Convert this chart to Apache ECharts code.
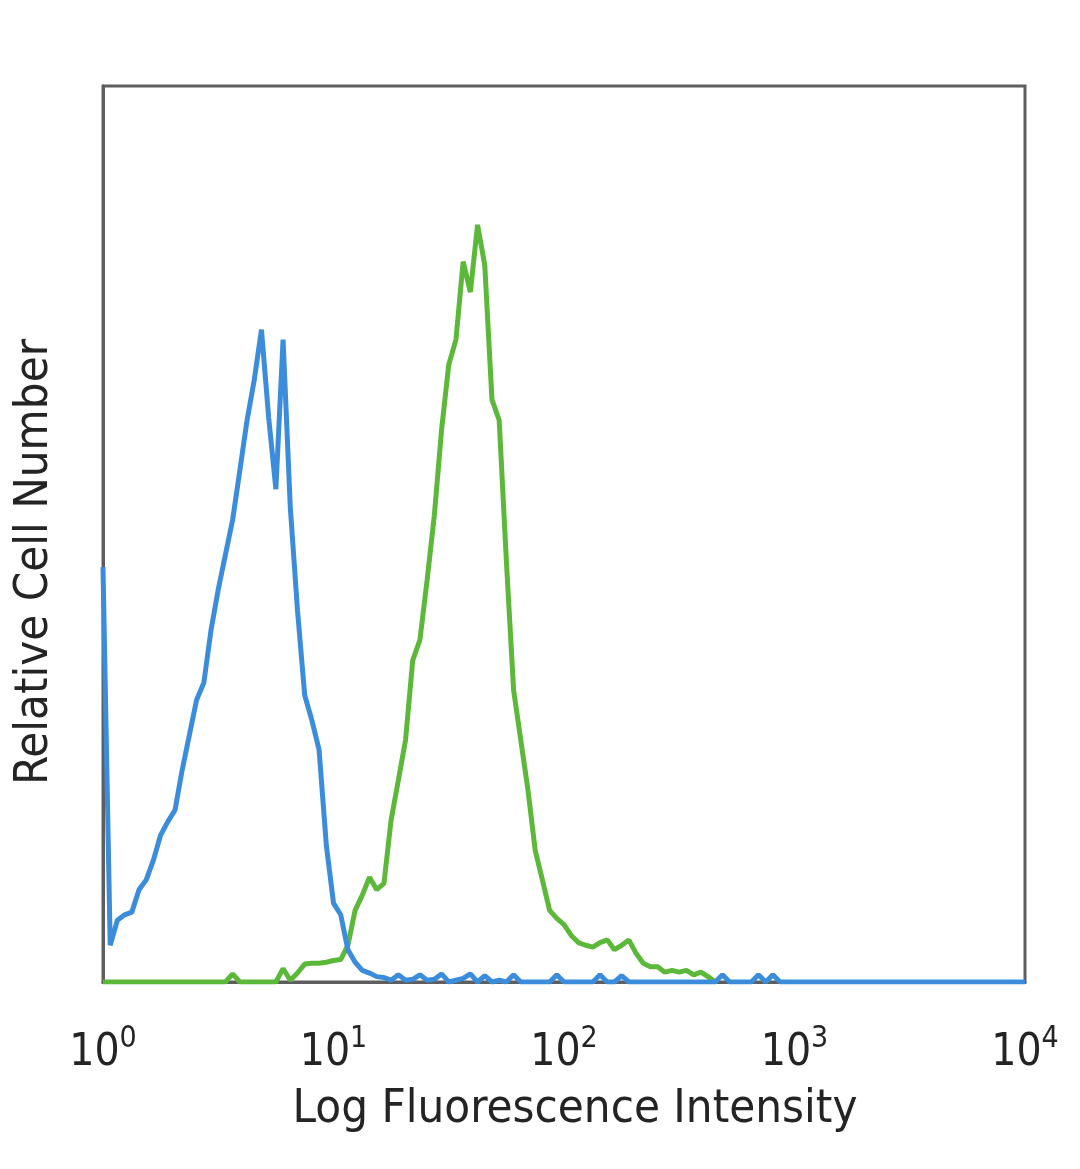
<!DOCTYPE html>
<html>
<head>
<meta charset="utf-8">
<script src="https://cdn.jsdelivr.net/npm/echarts@6/dist/echarts.min.js"></script>
<style>
  html, body { margin: 0; padding: 0; background: #ffffff; }
  #chart { width: 1080px; height: 1169px; }
</style>
</head>
<body>
<div id="chart"></div>
<script>
// Histogram data: log-scale channels, 32 channels per decade, starting at 10^0
const channelsPerDecade = 32;
const xTickLabels = ['10^0', '10^1', '10^2', '10^3', '10^4'];
const xAxisTitle = 'Log Fluorescence Intensity';
const yAxisTitle = 'Relative Cell Number';

// Blue histogram (control), counts per channel from channel 0 to 128
const blueCounts = [
  46.3, 4.1, 6.9, 7.5, 7.8, 10.3, 11.4, 13.6, 16.4, 17.9,
  19.2, 23.7, 27.6, 31.5, 33.4, 39.3, 43.8, 47.7, 51.6, 57.1,
  62.7, 67.2, 72.8, 63.0, 55.0, 71.7, 53.0, 41.5, 32.0, 29.2,
  25.9, 15.3, 8.8, 7.5, 3.6, 2.2, 1.3, 1.0, 0.6, 0.5,
  0.2, 0.8, 0.2, 0.3, 0.8, 0.2, 0.3, 0.9, 0, 0.2,
  0.4, 0.9, 0, 0.7, 0, 0.2, 0, 0.8, 0, 0,
  0, 0, 0, 0.8, 0, 0, 0, 0, 0, 0.8,
  0, 0, 0.7, 0, 0, 0, 0, 0, 0, 0,
  0, 0, 0, 0, 0, 0, 0.8, 0, 0, 0,
  0, 0.8, 0, 0.8, 0, 0, 0, 0, 0, 0,
  0, 0, 0, 0, 0, 0, 0, 0, 0, 0,
  0, 0, 0, 0, 0, 0, 0, 0, 0, 0,
  0, 0, 0, 0, 0, 0, 0, 0, 0
];

// Green histogram (stained), counts per channel from channel 0 to 85
const greenCounts = [
  0, 0, 0, 0, 0, 0, 0, 0, 0, 0,
  0, 0, 0, 0, 0, 0, 0, 0, 0.9, 0,
  0, 0, 0, 0, 0, 1.5, 0.2, 1.0, 2.0, 2.1,
  2.1, 2.2, 2.4, 2.5, 4.1, 8.0, 9.7, 11.7, 10.3, 11.0,
  18.1, 22.5, 27.0, 35.9, 38.2, 44.9, 52.1, 61.6, 68.9, 71.7,
  80.4, 77.0, 84.5, 80.0, 65.0, 62.7, 47.0, 32.6, 27.0, 21.4,
  14.7, 11.4, 8.0, 7.1, 6.4, 5.2, 4.4, 4.1, 3.9, 4.4,
  4.7, 3.6, 4.1, 4.7, 3.2, 2.1, 1.7, 1.7, 1.1, 1.3,
  1.1, 1.3, 0.8, 1.1, 0.6, 0
];

function toSeriesData(counts) {
  return counts.map((v, c) => [Math.pow(10, c / channelsPerDecade), v]);
}

const fontFam = "'DejaVu Sans Condensed', 'DejaVu Sans', sans-serif";
const textColor = '#242424';
const chart = echarts.init(document.getElementById('chart'), null, { renderer: 'canvas' });

chart.setOption({
  backgroundColor: '#ffffff',
  animation: false,
  grid: {
    left: 103, right: 55, top: 86, bottom: 187,
    show: true, borderColor: '#5e5e5e', borderWidth: 3, backgroundColor: 'transparent'
  },
  xAxis: {
    type: 'log',
    logBase: 10,
    min: 1,
    max: 10000,
    name: xAxisTitle,
    nameLocation: 'middle',
    nameGap: 104,
    nameTextStyle: { fontFamily: fontFam, fontSize: 47, color: textColor, padding: [0, 0, 0, 22] },
    axisLine: { show: true, lineStyle: { color: '#5e5e5e', width: 3 } },
    axisTick: { show: false },
    splitLine: { show: false },
    minorTick: { show: false },
    axisLabel: {
      margin: 42,
      formatter: function (v) {
        const e = Math.round(Math.log10(v));
        const lab = xTickLabels[e] || ('10^' + e);
        const parts = lab.split('^');
        return '{b|' + parts[0] + '}{s|' + parts[1] + '}';
      },
      rich: {
        b: { fontFamily: fontFam, fontSize: 44, color: textColor, lineHeight: 52, verticalAlign: 'bottom' },
        s: { fontFamily: fontFam, fontSize: 30, color: textColor, lineHeight: 52, verticalAlign: 'top' }
      }
    }
  },
  yAxis: {
    type: 'value',
    min: 0,
    max: 100,
    name: yAxisTitle,
    nameLocation: 'middle',
    nameGap: 45,
    nameRotate: 90,
    nameTextStyle: { fontFamily: fontFam, fontSize: 47, color: textColor, padding: [0, 56, 0, 0] },
    axisLine: { show: true, lineStyle: { color: '#5e5e5e', width: 3 } },
    axisTick: { show: false },
    axisLabel: { show: false },
    splitLine: { show: false }
  },
  series: [
    {
      name: 'Stained',
      type: 'line',
      data: toSeriesData(greenCounts),
      showSymbol: false,
      symbol: 'none',
      lineStyle: { color: '#5cb838', width: 5 },
      z: 2
    },
    {
      name: 'Control',
      type: 'line',
      data: toSeriesData(blueCounts),
      showSymbol: false,
      symbol: 'none',
      lineStyle: { color: '#3b8ddb', width: 5 },
      z: 3
    }
  ]
});
</script>
</body>
</html>
